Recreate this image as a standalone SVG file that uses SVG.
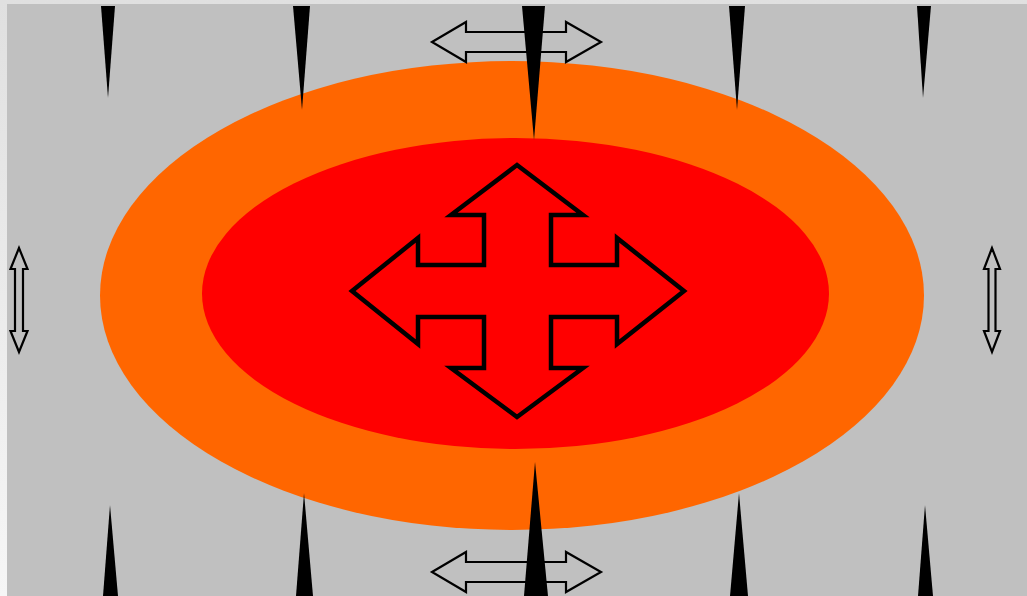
<svg xmlns="http://www.w3.org/2000/svg" width="1027" height="596" viewBox="0 0 1027 596">
  <defs>
    <linearGradient id="edge" x1="0" y1="0" x2="0" y2="1">
      <stop offset="0" stop-color="#e0e0e0"/>
      <stop offset="1" stop-color="#f6f6f6"/>
    </linearGradient>
    <style>
      .spike { fill: #000000; }
      .outline { fill: none; stroke: #000000; stroke-linejoin: miter; }
    </style>
  </defs>
  <rect id="frame" x="0" y="0" width="1027" height="596" fill="url(#edge)"/>
  <rect id="field" x="7" y="4" width="1020" height="592" fill="#c0c0c0"/>
  <g id="rings">
    <ellipse id="outer-ring" cx="512" cy="295.5" rx="412" ry="234.5" fill="#ff6600"/>
    <ellipse id="inner-core" cx="515.5" cy="293.5" rx="313.5" ry="155.5" fill="#ff0000"/>
  </g>
  <g id="move-arrow">
    <path class="outline" stroke-width="4.5" d="M517,165 L583,215 L551,215 L551,265 L617,265 L617,238 L684,291 L617,344 L617,317 L551,317 L551,368 L583,368 L517,417 L451,368 L484,368 L484,317 L418,317 L418,344 L352,291 L418,238 L418,265 L484,265 L484,215 L451,215 Z"/>
  </g>
  <g id="side-arrows">
    <path id="arrow-top" class="outline" stroke-width="2.2" d="M432,42 L466,22 L466,32 L566,32 L566,22 L601,42 L566,62 L566,52 L466,52 L466,62 Z"/>
    <path id="arrow-bottom" class="outline" stroke-width="2.2" d="M432,572 L466,552 L466,562 L566,562 L566,552 L601,572 L566,592 L566,582 L466,582 L466,592 Z"/>
    <path id="arrow-left" class="outline" stroke-width="2.2" d="M19,248 L10.5,269 L15,269 L15,331 L10.5,331 L19,352 L27.5,331 L23,331 L23,269 L27.5,269 Z"/>
    <path id="arrow-right" class="outline" stroke-width="2.2" d="M992,248 L984,269 L988.5,269 L988.5,331 L984,331 L992,352 L1000,331 L995.5,331 L995.5,269 L1000,269 Z"/>
  </g>
  <g id="spikes-top">
    <polygon class="spike" points="101,6 115,6 108,98"/>
    <polygon class="spike" points="293,6 310,6 302,110"/>
    <polygon class="spike" points="522,6 545,6 534,140"/>
    <polygon class="spike" points="729,6 745,6 737,110"/>
    <polygon class="spike" points="917,6 931,6 923,98"/>
  </g>
  <g id="spikes-bottom">
    <polygon class="spike" points="103,596 118,596 110,505"/>
    <polygon class="spike" points="296,596 313,596 304,493"/>
    <polygon class="spike" points="524,596 548,596 535,462"/>
    <polygon class="spike" points="730,596 748,596 739,493"/>
    <polygon class="spike" points="918,596 933,596 925,505"/>
  </g>
</svg>
